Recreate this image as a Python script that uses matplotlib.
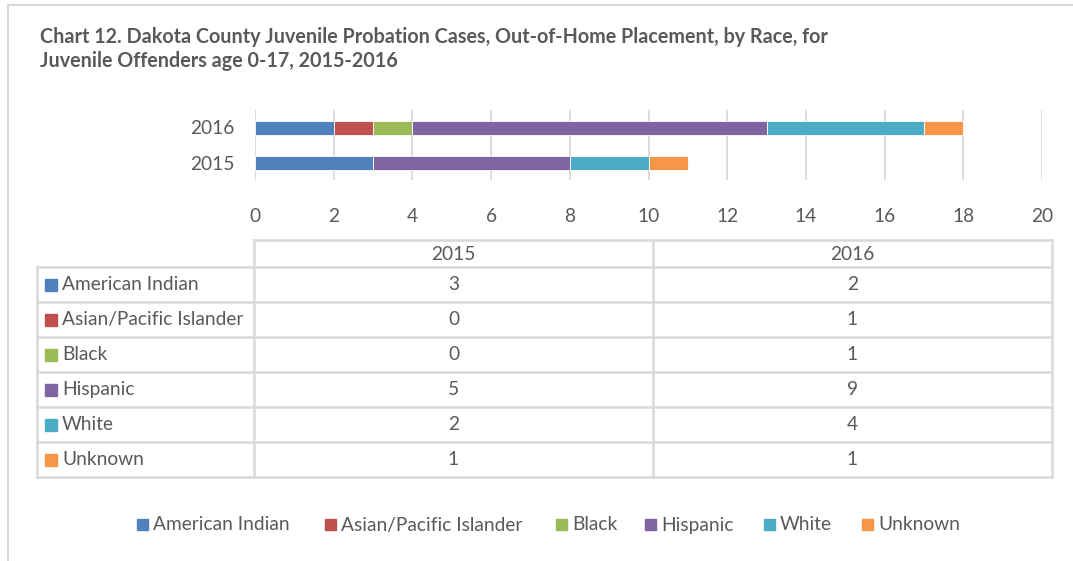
#!/usr/bin/env python3
"""Chart 12: Dakota County juvenile probation out-of-home placement by race (stacked bars + data table)."""

import matplotlib
matplotlib.use("Agg")
import matplotlib.pyplot as plt
from matplotlib.patches import Rectangle

years = ["2015", "2016"]
races = ["American Indian", "Asian/Pacific Islander", "Black", "Hispanic", "White", "Unknown"]
counts_2015 = [3, 0, 0, 5, 2, 1]
counts_2016 = [2, 1, 1, 9, 4, 1]
colors = ["#4F81BD", "#C0504D", "#9BBB59", "#8064A2", "#4BACC6", "#F79646"]
x_ticks = [0, 2, 4, 6, 8, 10, 12, 14, 16, 18, 20]

TXT = "#595959"
GRID = "#D9D9D9"
FS = 13.8
plt.rcParams["font.family"] = ["Lato", "DejaVu Sans"]

W, H = 1073, 561
fig = plt.figure(figsize=(W / 100, H / 100), dpi=100)

# bar axes (pixel layout converted to figure fractions)
ax = fig.add_axes([255 / W, 1 - 180 / H, (1042 - 255) / W, 70 / H])
series = [counts_2015, counts_2016]
left = [0, 0]
for i, race in enumerate(races):
    vals = [series[0][i], series[1][i]]
    ax.barh([0, 1], vals, left=left, height=0.4, color=colors[i], edgecolor="white", linewidth=0.6)
    left = [left[0] + vals[0], left[1] + vals[1]]
ax.set_xlim(0, 20)
ax.set_ylim(-0.5, 1.5)
ax.set_xticks(x_ticks)
ax.set_yticks([0, 1])
ax.set_yticklabels(years)
ax.grid(axis="x", color=GRID, linewidth=1.3)
ax.set_axisbelow(True)
for s in ax.spines.values():
    s.set_visible(False)
ax.tick_params(axis="both", length=0, labelsize=FS, labelcolor=TXT)
ax.tick_params(axis="x", pad=20)
ax.tick_params(axis="y", pad=15)

# overlay in pixel coordinates for frame, title, table and legend
ov = fig.add_axes([0, 0, 1, 1])
ov.set_xlim(0, W)
ov.set_ylim(H, 0)
ov.axis("off")
ov.patch.set_alpha(0)

ov.plot([8, W], [5, 5], color=GRID, lw=1.5)
ov.plot([8, 8], [5, H], color=GRID, lw=1.5)

ov.text(40, 37, "Chart 12. Dakota County Juvenile Probation Cases, Out-of-Home Placement, by Race, for",
        fontsize=14.2, fontweight="bold", color=TXT, va="center")
ov.text(40, 61, "Juvenile Offenders age 0-17, 2015-2016",
        fontsize=14.2, fontweight="bold", color=TXT, va="center")

# data table
x_l, x_c1, x_c2, x_r = 37, 254, 653, 1052
y_top, y_hdr = 240, 267
row_h = 35
n = len(races)
y_bot = y_hdr + n * row_h
lw_t = 1.8
ov.plot([x_c1, x_r], [y_top, y_top], color=GRID, lw=lw_t)
for k in range(n + 1):
    y = y_hdr + k * row_h
    ov.plot([x_l, x_r], [y, y], color=GRID, lw=lw_t)
ov.plot([x_l, x_l], [y_hdr, y_bot], color=GRID, lw=lw_t)
for x in (x_c1, x_c2, x_r):
    ov.plot([x, x], [y_top, y_bot], color=GRID, lw=lw_t)
ov.text((x_c1 + x_c2) / 2, (y_top + y_hdr) / 2 + 1, years[0], fontsize=FS, color=TXT, ha="center", va="center")
ov.text((x_c2 + x_r) / 2, (y_top + y_hdr) / 2 + 1, years[1], fontsize=FS, color=TXT, ha="center", va="center")
for k, race in enumerate(races):
    yc = y_hdr + k * row_h + row_h / 2
    ov.add_patch(Rectangle((45, yc - 6), 12, 12, color=colors[k]))
    ov.text(62, yc, race, fontsize=FS, color=TXT, va="center")
    ov.text((x_c1 + x_c2) / 2, yc, str(counts_2015[k]), fontsize=FS, color=TXT, ha="center", va="center")
    ov.text((x_c2 + x_r) / 2, yc, str(counts_2016[k]), fontsize=FS, color=TXT, ha="center", va="center")

# legend
leg_x = [137, 325, 556, 645, 764, 862]
for k, race in enumerate(races):
    ov.add_patch(Rectangle((leg_x[k], 519), 11, 11, color=colors[k]))
    ov.text(leg_x[k] + 16, 525, race, fontsize=FS, color=TXT, va="center")

fig.savefig("out.png", dpi=100)
